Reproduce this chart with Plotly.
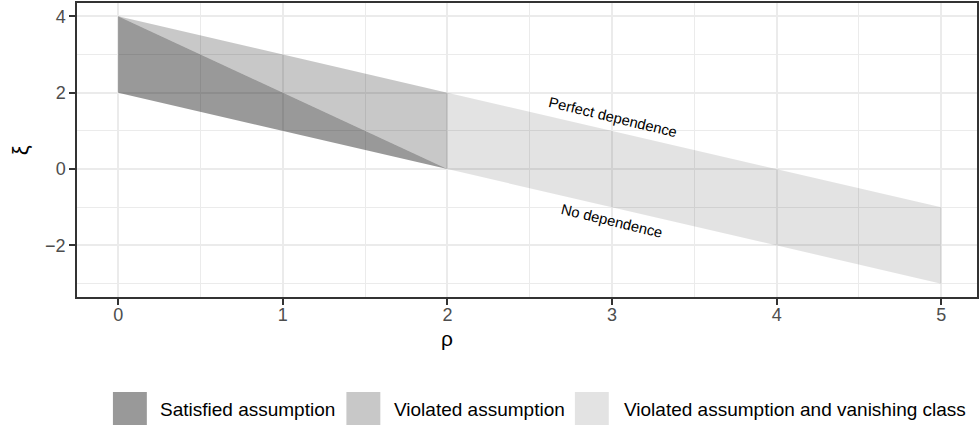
import plotly.graph_objects as go

# Regions of the (rho, xi) plane
categories = ["Satisfied assumption", "Violated assumption",
              "Violated assumption and vanishing class"]
rho_satisfied = [0, 2, 0]
xi_satisfied = [4, 0, 2]
rho_violated = [0, 2, 2]
xi_violated = [4, 2, 0]
rho_vanishing = [2, 5, 5, 2]
xi_vanishing = [2, -1, -3, 0]

x_ticks = [0, 1, 2, 3, 4, 5]
y_ticks = [-2, 0, 2, 4]

boundary_labels = ["Perfect dependence", "No dependence"]
label_rho = [3.0, 3.0]
label_xi = [1.36, -1.35]

fills = ["rgba(0,0,0,0.40)", "rgba(0,0,0,0.215)", "rgba(0,0,0,0.11)"]
FONT = "Liberation Sans, Arial, Helvetica, sans-serif"

W, H = 979, 425
ML, MR, MT, MB = 77, 0, 3, 128
PW, PH = W - ML - MR, H - MT - MB


def px_x(p):
    return (p - ML) / PW


def px_y(p):
    return (H - MB - p) / PH


fig = go.Figure()
for (xs, ys), name, col in zip(
        [(rho_satisfied, xi_satisfied), (rho_violated, xi_violated),
         (rho_vanishing, xi_vanishing)], categories, fills):
    fig.add_trace(go.Scatter(
        x=xs + xs[:1], y=ys + ys[:1], fill="toself", fillcolor=col,
        mode="lines", line=dict(width=0), name=name, showlegend=False,
        hoverinfo="skip"))

# boundary labels
for txt, rx, ry in zip(boundary_labels, label_rho, label_xi):
    fig.add_annotation(x=rx, y=ry, xref="x", yref="y", text=txt,
                       showarrow=False, textangle=13.5,
                       font=dict(family=FONT, size=14.7, color="black"))

# axis titles
fig.add_annotation(x=2, y=px_y(325), xref="x", yref="paper", text="ρ",
                   showarrow=False, xanchor="center", yanchor="top",
                   font=dict(family=FONT, size=21, color="black"))
fig.add_annotation(x=px_x(20), y=0.5, xref="paper", yref="paper", text="ξ",
                   showarrow=False, textangle=-90, xanchor="center",
                   yanchor="middle",
                   font=dict(family=FONT, size=22, color="black"))

# bottom legend: keys and labels
key_left = [113, 347, 576]
text_left = [158, 393, 623]
for name, col, kl, tl in zip(categories, fills, key_left, text_left):
    fig.add_shape(type="rect", xref="paper", yref="paper",
                  x0=px_x(kl), x1=px_x(kl + 34), y0=px_y(392), y1=px_y(425),
                  fillcolor=col, line=dict(width=0))
    fig.add_annotation(x=px_x(tl), y=px_y(409), xref="paper", yref="paper",
                       text=name, showarrow=False, xanchor="left",
                       yanchor="middle",
                       font=dict(family=FONT, size=19, color="black"))

axis_common = dict(
    showgrid=True, gridcolor="#EBEBEB", gridwidth=2,
    showline=True, linecolor="#333333", linewidth=1.5, mirror=True,
    ticks="outside", ticklen=6, tickwidth=1.5, tickcolor="#333333",
    tickfont=dict(family=FONT, size=18, color="#4D4D4D"),
    zeroline=False,
)

fig.update_layout(
    width=W, height=H,
    margin=dict(l=ML, r=MR, t=MT, b=MB),
    paper_bgcolor="white", plot_bgcolor="white",
    showlegend=False,
    xaxis=dict(range=[-0.25, 5.217], tickvals=x_ticks,
               ticktext=[str(v) for v in x_ticks],
               ticklabelstandoff=-5,
               minor=dict(dtick=0.5, tick0=0, showgrid=True,
                          gridcolor="#EBEBEB", gridwidth=1, ticks=""),
               **axis_common),
    yaxis=dict(range=[-3.35, 4.35], tickvals=y_ticks,
               ticktext=[("−" + str(-v)) if v < 0 else str(v) for v in y_ticks],
               minor=dict(dtick=1, tick0=-3, showgrid=True,
                          gridcolor="#EBEBEB", gridwidth=1, ticks=""),
               **axis_common),
)

fig.write_html("out.html")
